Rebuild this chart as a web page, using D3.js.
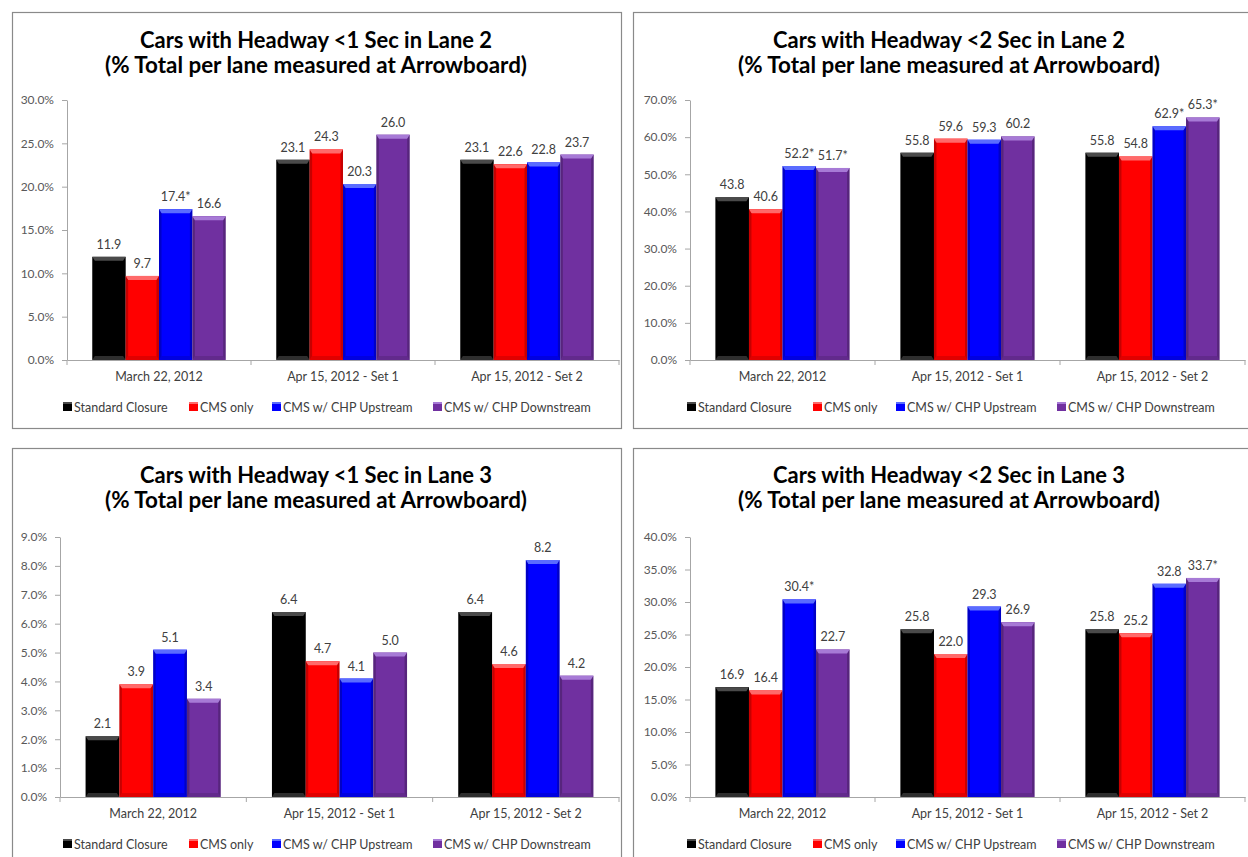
<!DOCTYPE html>
<html>
<head>
<meta charset="utf-8">
<script src="https://cdn.jsdelivr.net/npm/d3@7"></script>
<style>
  html, body { margin: 0; padding: 0; background: #ffffff; }
  svg { display: block; font-family: Lato, "Open Sans", sans-serif; }
</style>
</head>
<body>
<script>
// ---- Data -------------------------------------------------------------
const categories = ["March 22, 2012", "Apr 15, 2012 - Set 1", "Apr 15, 2012 - Set 2"];
const seriesNames = ["Standard Closure", "CMS only", "CMS w/ CHP Upstream", "CMS w/ CHP Downstream"];

// values per series (rows) and per category (columns), in percent
const lane2Under1 = [
  [11.9, 23.1, 23.1],
  [9.7, 24.3, 22.6],
  [17.4, 20.3, 22.8],
  [16.6, 26.0, 23.7]
];
const lane2Under1Starred = [[0, 0, 0], [0, 0, 0], [1, 0, 0], [0, 0, 0]];
const lane2Under1Ticks = [0, 5, 10, 15, 20, 25, 30];

const lane2Under2 = [
  [43.8, 55.8, 55.8],
  [40.6, 59.6, 54.8],
  [52.2, 59.3, 62.9],
  [51.7, 60.2, 65.3]
];
const lane2Under2Starred = [[0, 0, 0], [0, 0, 0], [1, 0, 1], [1, 0, 1]];
const lane2Under2Ticks = [0, 10, 20, 30, 40, 50, 60, 70];

const lane3Under1 = [
  [2.1, 6.4, 6.4],
  [3.9, 4.7, 4.6],
  [5.1, 4.1, 8.2],
  [3.4, 5.0, 4.2]
];
const lane3Under1Starred = [[0, 0, 0], [0, 0, 0], [0, 0, 0], [0, 0, 0]];
const lane3Under1Ticks = [0, 1, 2, 3, 4, 5, 6, 7, 8, 9];

const lane3Under2 = [
  [16.9, 25.8, 25.8],
  [16.4, 22.0, 25.2],
  [30.4, 29.3, 32.8],
  [22.7, 26.9, 33.7]
];
const lane3Under2Starred = [[0, 0, 0], [0, 0, 0], [1, 0, 0], [0, 0, 1]];
const lane3Under2Ticks = [0, 5, 10, 15, 20, 25, 30, 35, 40];

const titlesLine1 = [
  "Cars with Headway <1 Sec in Lane 2",
  "Cars with Headway <2 Sec in Lane 2",
  "Cars with Headway <1 Sec in Lane 3",
  "Cars with Headway <2 Sec in Lane 3"
];
const titleLine2 = "(% Total per lane measured at Arrowboard)";

// ---- Styling ----------------------------------------------------------
const seriesColors = ["#000000", "#ff0000", "#0000ff", "#7030a0"];
const bevelColors  = ["#4a4a4a", "#ff6a6a", "#5a6cff", "#a77ad6"];
const textColor = "#404040";
const axisColor = "#a6a6a6";
const frameColor = "#8a8a8a";

// ---- Panel layout -----------------------------------------------------
const panels = [
  { data: lane2Under1, starred: lane2Under1Starred, ticks: lane2Under1Ticks, title: titlesLine1[0],
    frame: [12, 12, 621, 428], axisX: [67, 619], axisY: [360, 100], titleX: 316, titleY: 48, legendX: 63 },
  { data: lane2Under2, starred: lane2Under2Starred, ticks: lane2Under2Ticks, title: titlesLine1[1],
    frame: [633, 12, 1270, 428], axisX: [690, 1245], axisY: [360, 100], titleX: 949, titleY: 48, legendX: 687 },
  { data: lane3Under1, starred: lane3Under1Starred, ticks: lane3Under1Ticks, title: titlesLine1[2],
    frame: [12, 448, 621, 870], axisX: [60, 619], axisY: [797, 537], titleX: 316, titleY: 483, legendX: 63 },
  { data: lane3Under2, starred: lane3Under2Starred, ticks: lane3Under2Ticks, title: titlesLine1[3],
    frame: [633, 448, 1270, 870], axisX: [690, 1245], axisY: [797, 537], titleX: 949, titleY: 483, legendX: 687 }
];

const legendOffsets = [0, 126, 209, 370];

const svg = d3.select("body").append("svg")
  .attr("width", 1248)
  .attr("height", 857);

function drawPanel(p) {
  const g = svg.append("g");
  const [fx0, fy0, fx1, fy1] = p.frame;

  // outer frame
  g.append("rect")
    .attr("x", fx0 + 0.5).attr("y", fy0 + 0.5)
    .attr("width", fx1 - fx0).attr("height", fy1 - fy0)
    .attr("fill", "#ffffff")
    .attr("stroke", frameColor)
    .attr("stroke-width", 1.2);

  // two-line title
  g.append("text")
    .attr("x", p.titleX).attr("y", p.titleY)
    .attr("text-anchor", "middle")
    .attr("font-size", 22).attr("font-weight", 700)
    .attr("fill", "#000000")
    .attr("textLength", 352).attr("lengthAdjust", "spacingAndGlyphs")
    .text(p.title);
  g.append("text")
    .attr("x", p.titleX).attr("y", p.titleY + 25)
    .attr("text-anchor", "middle")
    .attr("font-size", 22).attr("font-weight", 700)
    .attr("fill", "#000000")
    .attr("textLength", 422).attr("lengthAdjust", "spacingAndGlyphs")
    .text(titleLine2);

  // scales
  const x0 = d3.scaleBand().domain(categories).range(p.axisX);
  const bw = x0.bandwidth();
  const pad = bw * 0.1375;
  const x1 = d3.scaleBand().domain(seriesNames).range([pad, bw - pad]);
  const y = d3.scaleLinear().domain([0, d3.max(p.ticks)]).range(p.axisY);

  // y axis
  const yAxis = g.append("g")
    .attr("transform", `translate(${p.axisX[0]},0)`)
    .call(d3.axisLeft(y)
      .tickValues(p.ticks)
      .tickFormat(d => d3.format(".1f")(d) + "%")
      .tickSize(5).tickSizeOuter(0).tickPadding(8));
  yAxis.select(".domain").attr("stroke", axisColor);
  yAxis.selectAll(".tick line").attr("stroke", axisColor);
  yAxis.selectAll(".tick text")
    .attr("fill", "#595959").attr("font-size", 12)
    .attr("font-family", "Lato, sans-serif");

  // x axis: labels centred in bands, tick marks on band boundaries
  const xAxis = g.append("g")
    .attr("transform", `translate(0,${p.axisY[0]})`)
    .call(d3.axisBottom(x0).tickSize(0).tickSizeOuter(0).tickPadding(12));
  xAxis.select(".domain").attr("stroke", axisColor);
  xAxis.selectAll(".tick text")
    .attr("fill", textColor).attr("font-size", 12.5)
    .attr("font-family", "Lato, sans-serif");
  const bounds = categories.map(c => x0(c)).concat([x0.range()[1]]);
  xAxis.selectAll("line.bound").data(bounds).join("line")
    .attr("class", "bound")
    .attr("x1", d => d).attr("x2", d => d)
    .attr("y1", 0).attr("y2", 5)
    .attr("stroke", axisColor);

  // bars
  const cells = [];
  p.data.forEach((row, si) => row.forEach((v, ci) => cells.push({ si, ci, v, star: p.starred[si][ci] })));

  const bars = g.append("g").selectAll("g.bar").data(cells).join("g").attr("class", "bar");
  bars.each(function (d) {
    const bx = x0(categories[d.ci]) + x1(seriesNames[d.si]);
    const w = x1.bandwidth();
    const top = y(d.v);
    const bottom = y(0);
    const sel = d3.select(this);
    sel.append("rect")
      .attr("x", bx).attr("y", top)
      .attr("width", w).attr("height", bottom - top)
      .attr("fill", seriesColors[d.si]);
    const b = 4, s = 2.5;
    // top bevel highlight
    sel.append("polygon")
      .attr("points", [[bx, top], [bx + w, top], [bx + w - s, top + b], [bx + s, top + b]].map(q => q.join(",")).join(" "))
      .attr("fill", bevelColors[d.si]);
    // side shading
    sel.append("polygon")
      .attr("points", [[bx, top], [bx + s, top + b], [bx + s, bottom - b], [bx, bottom]].map(q => q.join(",")).join(" "))
      .attr("fill", "rgba(0,0,0,0.22)");
    sel.append("polygon")
      .attr("points", [[bx + w, top], [bx + w - s, top + b], [bx + w - s, bottom - b], [bx + w, bottom]].map(q => q.join(",")).join(" "))
      .attr("fill", "rgba(0,0,0,0.22)");
    // bottom bevel
    sel.append("polygon")
      .attr("points", [[bx, bottom], [bx + s, bottom - b], [bx + w - s, bottom - b], [bx + w, bottom]].map(q => q.join(",")).join(" "))
      .attr("fill", d.si === 0 ? "rgba(255,255,255,0.18)" : "rgba(0,0,0,0.12)");

    // value label
    sel.append("text")
      .attr("x", bx + w / 2).attr("y", top - 8)
      .attr("text-anchor", "middle")
      .attr("font-size", 12.5)
      .attr("fill", textColor)
      .text(d3.format(".1f")(d.v) + (d.star ? "*" : ""));
  });

  // legend
  const legendY = p.axisY[0] + 52;
  const items = g.append("g").selectAll("g.legend").data(seriesNames).join("g")
    .attr("class", "legend")
    .attr("transform", (d, i) => `translate(${p.legendX + legendOffsets[i]},${legendY})`);
  items.append("rect")
    .attr("x", 0).attr("y", -10)
    .attr("width", 9).attr("height", 9)
    .attr("fill", (d, i) => seriesColors[i]);
  items.append("rect")
    .attr("x", 0).attr("y", -10)
    .attr("width", 9).attr("height", 2)
    .attr("fill", (d, i) => bevelColors[i]);
  items.append("text")
    .attr("x", 11).attr("y", 0)
    .attr("font-size", 12.5)
    .attr("fill", textColor)
    .text(d => d);
}

panels.forEach(drawPanel);
</script>
</body>
</html>
